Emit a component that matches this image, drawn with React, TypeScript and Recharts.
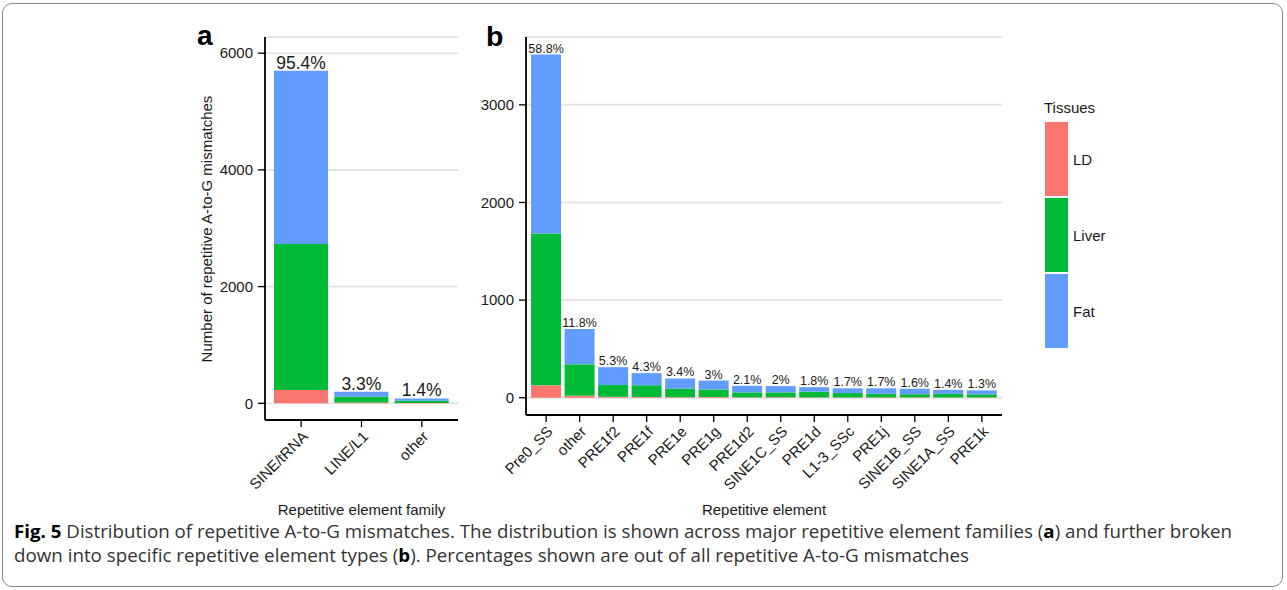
import React from "react";
import { BarChart, Bar, XAxis, YAxis, CartesianGrid, LabelList } from "recharts";

const familyCats = ["SINE/tRNA", "LINE/L1", "other"];
const familyLD = [228, 15, 6];
const familyLiver = [2500, 98, 40];
const familyFat = [2970, 86, 38];
const familyPct = ["95.4%", "3.3%", "1.4%"];
const familyTicks = [0, 2000, 4000, 6000];

const elementCats = ["Pre0_SS", "other", "PRE1f2", "PRE1f", "PRE1e", "PRE1g", "PRE1d2", "SINE1C_SS", "PRE1d", "L1-3_SSc", "PRE1j", "SINE1B_SS", "SINE1A_SS", "PRE1k"];
const elementLD = [127, 21, 10, 8, 5, 8, 4, 6, 4, 3, 4, 4, 3, 4];
const elementLiver = [1555, 321, 120, 120, 88, 76, 51, 49, 58, 45, 36, 32, 36, 31];
const elementFat = [1833, 363, 183, 124, 104, 92, 67, 64, 46, 48, 56, 56, 42, 40];
const elementPct = ["58.8%", "11.8%", "5.3%", "4.3%", "3.4%", "3%", "2.1%", "2%", "1.8%", "1.7%", "1.7%", "1.6%", "1.4%", "1.3%"];
const elementTicks = [0, 1000, 2000, 3000];

const tissueNames = ["LD", "Liver", "Fat"];
const tissueColors = ["#F8766D", "#00BA38", "#619CFF"];

const familyData = familyCats.map((c, i) => ({ cat: c, LD: familyLD[i], Liver: familyLiver[i], Fat: familyFat[i], pct: familyPct[i] }));
const elementData = elementCats.map((c, i) => ({ cat: c, LD: elementLD[i], Liver: elementLiver[i], Fat: elementFat[i], pct: elementPct[i] }));

const FONT = "'Liberation Sans', Arial, Helvetica, sans-serif";
const TXT = "#1a1a1a";

const XTick = (props: any) => {
  const { x, y, payload } = props;
  return (
    <g transform={`translate(${x},${y})`}>
      <text transform="rotate(-45)" textAnchor="end" dy="0.71em" x={0} y={0} fontSize={15} fill={TXT} fontFamily={FONT}>
        {payload.value}
      </text>
    </g>
  );
};

function Panel(props: { data: any[]; width: number; height: number; margin: any; domain: number[]; ticks: number[]; pad: number; pctSize: number }) {
  const { data, width, height, margin, domain, ticks, pad, pctSize } = props;
  return (
    <BarChart width={width} height={height} data={data} margin={margin} barCategoryGap="5%">
      <CartesianGrid vertical={false} stroke="#e4e4e4" strokeWidth={2} />
      <XAxis
        dataKey="cat"
        type="category"
        height={80}
        interval={0}
        padding={{ left: pad, right: pad }}
        axisLine={{ stroke: "#000", strokeWidth: 1.8 }}
        tickLine={{ stroke: "#000", strokeWidth: 1.3 }}
        tickSize={7}
        tickMargin={3}
        tick={<XTick />}
      />
      <YAxis
        type="number"
        width={60}
        domain={domain}
        ticks={ticks}
        interval={0}
        allowDataOverflow
        axisLine={{ stroke: "#000", strokeWidth: 1.8 }}
        tickLine={{ stroke: "#000", strokeWidth: 1.3 }}
        tickSize={7}
        tickMargin={5}
        tick={{ fontSize: 15, fill: TXT, fontFamily: FONT }}
      />
      {tissueNames.map((t, i) => (
        <Bar key={t} dataKey={t} stackId="s" fill={tissueColors[i]} isAnimationActive={false}>
          {i === 2 ? (
            <LabelList dataKey="pct" position="top" offset={2} style={{ fontSize: pctSize, fill: TXT, fontFamily: FONT }} />
          ) : null}
        </Bar>
      ))}
    </BarChart>
  );
}

export default function App() {
  const abs = (s: any) => ({ position: "absolute" as const, ...s });
  return (
    <div style={{ position: "absolute", left: 0, top: 0, width: 1287, height: 590, background: "#fff", fontFamily: FONT, overflow: "hidden" }}>
      <div style={abs({ left: 2, top: 3, width: 1279, height: 582, border: "1px solid #8a8a8a", borderRadius: 10 })} />
      <div style={abs({ left: 0, top: 0 })}>
        <Panel data={familyData} width={460} height={520} margin={{ top: 37, right: 2, left: 205, bottom: 20 }} domain={[-286, 6277]} ticks={familyTicks} pad={6} pctSize={17.5} />
      </div>
      <div style={abs({ left: 460, top: 0 })}>
        <Panel data={elementData} width={545} height={520} margin={{ top: 37, right: 3, left: 6, bottom: 25 }} domain={[-177, 3695]} ticks={elementTicks} pad={3.4} pctSize={12.5} />
      </div>
      {/* panel letters */}
      <div style={abs({ left: 197, top: 21, fontSize: 28, fontWeight: "bold", color: "#000", lineHeight: "30px" })}>a</div>
      <div style={abs({ left: 486, top: 21, fontSize: 28.5, fontWeight: "bold", color: "#000", lineHeight: "30px" })}>b</div>
      {/* y axis title */}
      <div style={abs({ left: 206, top: 228.5, width: 0, height: 0 })}>
        <div style={{ position: "absolute", transform: "translate(-50%,-50%) rotate(-90deg)", whiteSpace: "nowrap", fontSize: 15, color: TXT }}>
          Number of repetitive A-to-G mismatches
        </div>
      </div>
      {/* x axis titles */}
      <div style={abs({ left: 361.5, top: 509, width: 0, height: 0 })}>
        <div style={{ position: "absolute", transform: "translate(-50%,-50%)", whiteSpace: "nowrap", fontSize: 15, color: TXT }}>Repetitive element family</div>
      </div>
      <div style={abs({ left: 764, top: 509, width: 0, height: 0 })}>
        <div style={{ position: "absolute", transform: "translate(-50%,-50%)", whiteSpace: "nowrap", fontSize: 15, color: TXT }}>Repetitive element</div>
      </div>
      {/* legend */}
      <div style={abs({ left: 1044, top: 99, fontSize: 15, color: TXT, lineHeight: "18px" })}>Tissues</div>
      {tissueNames.map((t, i) => (
        <React.Fragment key={t}>
          <div style={abs({ left: 1045, top: 122.3 + i * 76, width: 23, height: 74, background: tissueColors[i] })} />
          <div style={abs({ left: 1073, top: 159.5 + i * 76, transform: "translateY(-50%)", fontSize: 15, color: TXT, lineHeight: "18px" })}>{t}</div>
        </React.Fragment>
      ))}
      {/* caption */}
      <svg style={abs({ left: 0, top: 520 })} width={1287} height={70}>
        <text x={14} y={18} fontSize={17.5} fontFamily="'Open Sans', sans-serif" fill="#333" textLength={1218} lengthAdjust="spacingAndGlyphs">
          <tspan fontWeight="bold" fill="#000">Fig. 5</tspan>
          <tspan> Distribution of repetitive A-to-G mismatches. The distribution is shown across major repetitive element families (</tspan>
          <tspan fontWeight="bold" fill="#000">a</tspan>
          <tspan>) and further broken</tspan>
        </text>
        <text x={14} y={42} fontSize={17.5} fontFamily="'Open Sans', sans-serif" fill="#333" textLength={955} lengthAdjust="spacingAndGlyphs">
          <tspan>down into specific repetitive element types (</tspan>
          <tspan fontWeight="bold" fill="#000">b</tspan>
          <tspan>). Percentages shown are out of all repetitive A-to-G mismatches</tspan>
        </text>
      </svg>
    </div>
  );
}
